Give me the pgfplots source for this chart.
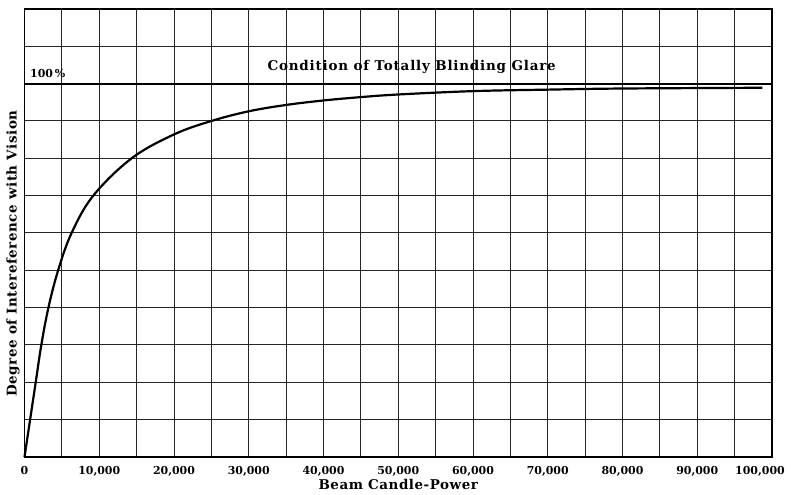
\documentclass[border=0pt]{standalone}
\usepackage{pgfplots}
\pgfplotsset{compat=1.18}
\usepackage{fontspec}
\setmainfont{DejaVu Serif}
\newfontfamily\lbl[LetterSpace=4]{DejaVu Serif}
\newfontfamily\lblw[LetterSpace=6]{DejaVu Serif}
\begin{document}
\begin{tikzpicture}
\begin{axis}[
  scale only axis, width=747.5bp, height=448bp,
  xmin=0, xmax=100000, ymin=0, ymax=120,
  scaled x ticks=false,
  xtick={0,10000,20000,30000,40000,50000,60000,70000,80000,90000,100000},
  xticklabels={0,{10,000},{20,000},{30,000},{40,000},{50,000},{60,000},{70,000},{80,000},{90,000},{\hspace*{-24bp}100,000}},
  minor xtick={5000,15000,25000,35000,45000,55000,65000,75000,85000,95000},
  ytick={0,10,20,30,40,50,60,70,80,90,100,110,120},
  yticklabels={},
  grid=both,
  major grid style={black!85, line width=1bp},
  minor grid style={black!85, line width=1bp},
  major tick length=0pt, minor tick length=0pt,
  axis line style={black, line width=1.4bp},
  xticklabel style={font=\bfseries\fontsize{11}{12}\selectfont, yshift=-6bp},
  xlabel={\lbl\bfseries Beam Candle-Power},
  xlabel style={font=\fontsize{13.5}{14}\selectfont, yshift=4bp},
  clip=false,
]
\addplot[black, line width=2.2bp] coordinates {(0,100) (100000,100)};
\addplot[black, line width=2.2bp, smooth, tension=0.6] coordinates {
(0,0) (750,10) (1500,20) (2250,30) (3200,40) (4500,50) (6300,60) (9200,70)
(14330,80) (20000,86.4) (25000,90) (30000,92.6) (35000,94.3) (40000,95.5)
(45000,96.4) (50000,97.1) (60000,98.0) (70000,98.4) (80000,98.7) (98700,98.9)
};
\node[font=\lblw\bfseries\fontsize{13.5}{14}\selectfont] at (axis cs:51800,104.6) {Condition of Totally Blinding Glare};
\node[font=\bfseries\fontsize{11}{12}\selectfont, anchor=west, inner sep=0pt] at (axis cs:735,102.7) {100\,\%};
\node[font=\lbl\bfseries\fontsize{13.5}{14}\selectfont, rotate=90] at ([xshift=-11.5bp]axis cs:0,54.5) {Degree of Intereference with Vision};
\end{axis}
\pgfresetboundingbox
\path ([xshift=-24.5bp,yshift=-38bp]current axis.south west) rectangle ([xshift=19bp,yshift=9bp]current axis.north east);
\end{tikzpicture}
\end{document}
